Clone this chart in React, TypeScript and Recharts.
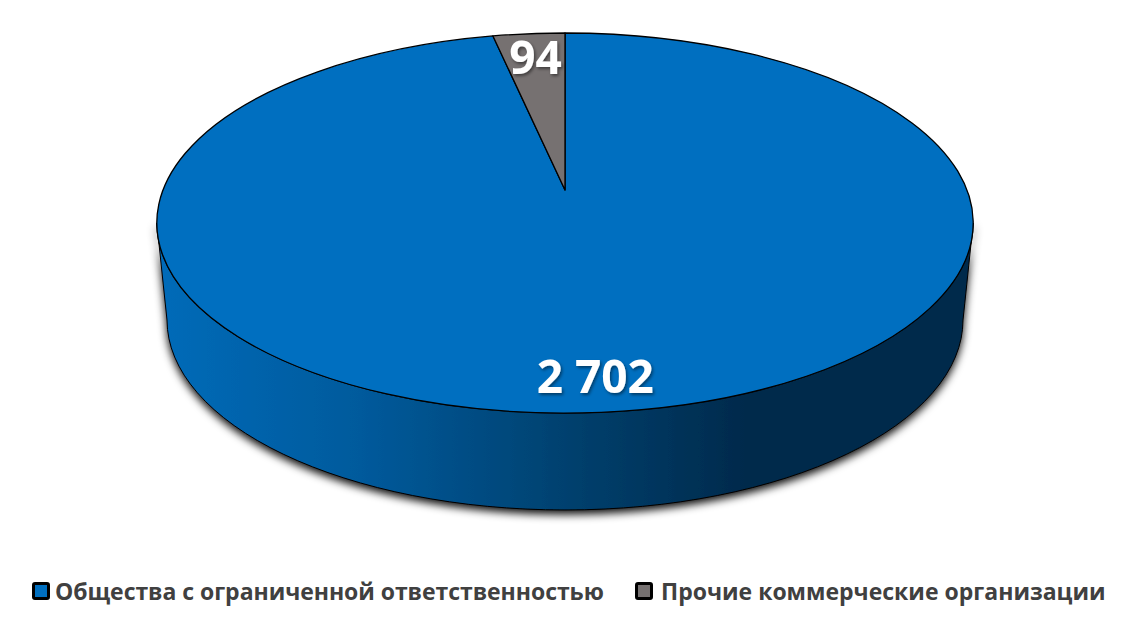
import React from "react";
import { PieChart, Pie, Legend } from "recharts";

// Values
const names = ["Общества с ограниченной ответственностью", "Прочие коммерческие организации"];
const values = [2702, 94];
const colors = ["#006fc0", "#767171"];

const tableData = names.map((name, i) => ({ name, value: values[i], fill: colors[i] }));

// Tilted disc: the pie centre is drawn off the ellipse centre, as in a 3D Office chart
const TILT = 0.1737;
const RADIUS_X = 402;
const RADIUS_Y = 184.3;
const WALL_DROP = 97;
const WALL_RX = 398;
const LABEL_POS = [0.867, 0.823];
const LABEL_DX = [-13, 1];
const LABEL_DY = -2;

const RAD = Math.PI / 180;
const rx = RADIUS_X / Math.sqrt(1 - TILT * TILT);
const ry = RADIUS_Y / (1 - TILT * TILT);

const project = (cx: number, cy: number, angle: number, rho = 1) => {
  const u = rho * Math.cos(angle * RAD);
  const v = rho * Math.sin(angle * RAD);
  const w = 1 + TILT * v;
  return { x: cx + (RADIUS_X * u) / w, y: cy - (RADIUS_Y * v) / w };
};

const TopSlice = (props: any) => {
  const { cx, cy, startAngle, endAngle, fill } = props;
  const a = project(cx, cy, startAngle);
  const b = project(cx, cy, endAngle);
  const large = Math.abs(startAngle - endAngle) > 180 ? 1 : 0;
  const d = `M${cx},${cy} L${a.x},${a.y} A${rx},${ry} 0 ${large} 1 ${b.x},${b.y} Z`;
  return <path d={d} fill={fill} stroke="#000" strokeWidth={1.3} strokeLinejoin="round" />;
};

// Only the slice facing the viewer shows its side
const WallSlice = (props: any) => {
  const { cx, cy, startAngle, endAngle } = props;
  if (!(startAngle >= -90 && endAngle <= -90)) return <g />;
  const ey = cy + (RADIUS_Y * TILT) / (1 - TILT * TILT);
  const d =
    `M${cx - rx},${ey} A${rx},${ry} 0 0 0 ${cx + rx},${ey} ` +
    `L${cx + WALL_RX},${ey + WALL_DROP} A${WALL_RX},${ry} 0 0 1 ${cx - WALL_RX},${ey + WALL_DROP} Z`;
  return <path d={d} fill="url(#wallFill)" stroke="#000" strokeWidth={1} filter="url(#wallShadow)" />;
};

const formatValue = (v: number) => String(v).replace(/\B(?=(\d{3})+$)/g, " ");

const renderLabel = (props: any) => {
  const { cx, cy, midAngle, value, index } = props;
  const p = project(cx, cy, midAngle, LABEL_POS[index]);
  return (
    <text
      x={p.x + LABEL_DX[index]}
      y={p.y + LABEL_DY}
      textAnchor="middle"
      dominantBaseline="central"
      fill="#fff"
      fontFamily="'Open Sans', sans-serif"
      fontWeight={700}
      fontSize={46}
      filter="url(#labelShadow)"
    >
      {formatValue(value)}
    </text>
  );
};

const LegendRow = () => (
  <div style={{ position: "relative", height: 40, fontFamily: "'Open Sans', sans-serif", fontWeight: 700, fontSize: 23, color: "#404040" }}>
    {names.map((name, i) => (
      <div key={name} style={{ position: "absolute", left: i === 0 ? 32 : 635, top: 0, display: "flex", alignItems: "center", whiteSpace: "nowrap" }}>
        <span style={{ width: 12, height: 12, background: colors[i], border: "3px solid #000", borderRadius: 3, marginRight: i === 0 ? 5 : 8 }} />
        <span style={{ letterSpacing: i === 0 ? -0.05 : 0 }}>{name}</span>
      </div>
    ))}
  </div>
);

export default function App() {
  return (
    <div style={{ position: "absolute", left: 0, top: 0, width: 1130, height: 636, background: "#fff" }}>
      <PieChart width={1130} height={636} margin={{ top: 0, right: 0, bottom: 0, left: 0 }}>
        <defs>
          <linearGradient id="wallFill" x1="0" y1="0" x2="1" y2="0">
            <stop offset="0" stopColor="#006bb9" />
            <stop offset="0.25" stopColor="#005a9c" />
            <stop offset="0.5" stopColor="#00416f" />
            <stop offset="0.72" stopColor="#012a4c" />
            <stop offset="1" stopColor="#012a4c" />
          </linearGradient>
          <filter id="wallShadow" x="-5%" y="-5%" width="110%" height="115%">
            <feDropShadow dx="0" dy="4" stdDeviation="4.5" floodColor="#000" floodOpacity="0.95" />
          </filter>
          <filter id="labelShadow" x="-10%" y="-10%" width="120%" height="130%">
            <feDropShadow dx="1.5" dy="2" stdDeviation="1.5" floodColor="#000" floodOpacity="0.45" />
          </filter>
        </defs>
        <Pie
          data={tableData}
          dataKey="value"
          nameKey="name"
          cx={565}
          cy={190}
          outerRadius={RADIUS_X}
          startAngle={90}
          endAngle={-270}
          shape={WallSlice}
          legendType="none"
          isAnimationActive={false}
        />
        <Pie
          data={tableData}
          dataKey="value"
          nameKey="name"
          cx={565}
          cy={190}
          outerRadius={RADIUS_X}
          startAngle={90}
          endAngle={-270}
          shape={TopSlice}
          label={renderLabel}
          labelLine={false}
          isAnimationActive={false}
        />
        <Legend content={<LegendRow />} wrapperStyle={{ position: "absolute", left: 0, top: 575, width: 1130 }} />
      </PieChart>
    </div>
  );
}
